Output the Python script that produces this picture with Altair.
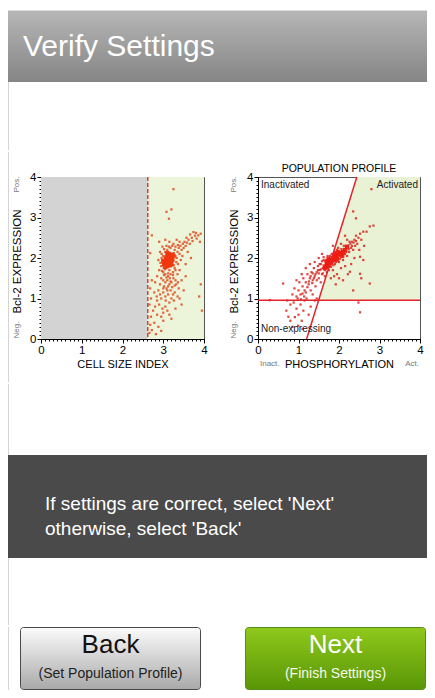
import altair as alt
import pandas as pd

FONT = "Liberation Sans, Arial, sans-serif"
PLOT_FONT = "Liberation Sans, Arial, sans-serif"

# ---------------- texts ----------------
HEADER_TITLE = "Verify Settings"
MESSAGE_LINES = ["If settings are correct, select 'Next'", "otherwise, select 'Back'"]
BACK_LABEL, BACK_SUB = "Back", "(Set Population Profile)"
NEXT_LABEL, NEXT_SUB = "Next", "(Finish Settings)"

LEFT_X_TITLE = "CELL SIZE INDEX"
RIGHT_X_TITLE = "PHOSPHORYLATION"
Y_TITLE = "Bcl-2 EXPRESSION"
RIGHT_TITLE = "POPULATION PROFILE"
REGION_LABELS = ["Inactivated", "Activated", "Non-expressing"]
AXIS_END_X = ["Inact.", "Act."]
AXIS_END_Y = ["Pos.", "Neg."]

# ---------------- axes ----------------
MAJOR_TICKS = [0, 1, 2, 3, 4]
MINOR_TICKS = [round(i / 10, 1) for i in range(0, 41)]

# ---------------- gates ----------------
CELL_SIZE_GATE = [2.62]
GRAY_REGION = {"x0": [0.0], "x1": [2.62], "y0": [0.0], "y1": [4.0]}
GREEN_REGION = {"x0": [2.62], "x1": [4.0], "y0": [0.0], "y1": [4.0]}
EXPR_GATE = [0.955]
PHOS_LINE_X = [1.20, 2.44]
PHOS_LINE_Y = [0.0, 4.0]
ACTIVE_AREA_X = [1.49, 2.44, 4.0]
ACTIVE_AREA_LOW = [0.955, 0.955, 0.955]
ACTIVE_AREA_HIGH = [0.955, 4.0, 4.0]

# ---------------- events ----------------
LEFT_CORE = [(3.12,1.95),(3.05,1.90),(3.18,2.00),(3.08,2.02),(3.15,1.88),(3.10,1.80),(3.20,2.08),
             (3.02,1.85),(3.14,2.10),(3.06,1.98),(3.22,1.95),(3.00,1.92),(3.16,1.82),(3.10,2.12),
             (3.25,2.05),(3.04,1.78),(3.18,1.92),(3.08,1.88),(3.12,2.05),(3.20,1.85)]
LEFT_HALO = [(3.00,2.05),(3.02,1.85),(3.05,2.15),(3.08,1.75),(3.10,2.20),(3.15,1.70),(3.18,2.25),
             (3.20,1.80),(3.22,2.10),(3.25,1.95),(3.28,2.20),(3.30,2.05),(3.32,1.90),(2.98,1.95),
             (2.95,1.80),(3.00,1.65),(3.05,1.60),(3.12,1.55),(3.18,1.60),(3.24,1.65),(3.28,1.75),
             (3.35,2.15),(3.38,2.25),(3.40,2.10),(3.42,2.30),(3.45,2.20),(3.48,2.35),(3.50,2.25),
             (3.52,2.40),(3.55,2.30),(3.58,2.38),(3.62,2.45),(3.65,2.35),(3.70,2.50),(3.74,2.64),
             (3.78,2.55),(3.82,2.48),(3.86,2.56),(3.90,2.40),(3.92,2.60),(3.60,2.15),(3.55,1.85),
             (3.68,2.00),(2.95,1.50),(3.00,1.45),(3.05,1.40),(3.10,1.45),(3.15,1.35),(3.20,1.40),
             (3.25,1.50),(3.30,1.45),(3.35,1.60),(3.02,1.30),(3.08,1.25),(3.12,1.30),(3.18,1.20),
             (3.22,1.28),(3.28,1.15),(3.32,1.35),(3.38,1.25),(2.92,1.35),(2.88,1.20),(3.00,1.15),
             (3.05,1.05),(3.12,1.10),(3.20,1.00),(3.26,0.95),(3.15,0.90),(2.95,1.00),(2.85,0.95),
             (2.90,0.85),(2.80,0.80),(3.05,0.80),(3.10,0.70),(2.75,0.70),(2.85,0.60),(2.70,0.55),
             (2.95,0.55),(3.00,0.45),(2.78,0.40),(2.68,0.35),(2.88,0.30),(2.72,0.22),(2.66,0.15),
             (2.82,0.12),(2.95,0.20),(3.20,0.50),(3.30,0.75),(3.45,0.85),(3.50,1.20),(3.45,1.45),
             (3.40,1.70),(3.55,1.55),(3.92,1.35),(3.95,0.70),(3.88,1.05),(2.70,1.00),(2.68,1.25),
             (2.72,1.45),(2.66,0.85),(3.20,3.20),(3.25,3.70),(3.08,3.14),(3.14,2.97),(2.72,2.56),
             (2.68,2.12),(2.90,2.40),(3.05,2.45),(3.15,2.40),(3.25,2.35),(2.98,2.28),(2.92,2.15),
             (2.88,1.95),(2.90,1.70),(2.85,1.55),(2.80,1.40),(3.35,1.05),(3.40,1.00),(3.00,0.65),
             (3.15,0.60),
             (2.96,2.10),(3.02,2.22),(3.08,2.30),(3.14,2.28),(3.22,2.30),(3.30,2.28),(3.36,2.32),
             (3.26,2.12),(3.33,2.00),(3.36,1.85),(3.30,1.70),(3.24,1.58),(3.16,1.50),(3.08,1.52),
             (3.02,1.58),(2.97,1.68),(2.93,1.88),(2.96,2.00),(3.04,1.72),(3.26,1.82),(3.43,1.95),
             (3.47,2.05),(3.40,2.40),(3.33,2.45),(3.57,2.50),(3.66,2.58),(3.72,2.42),(3.80,2.62),
             (3.12,1.62),(3.18,1.42),(3.28,1.32),(3.10,1.20),(3.00,1.25),(3.36,1.40),(3.24,1.10),
             (2.92,1.10),(2.84,1.05),(3.06,0.95),(2.78,1.15),(2.98,0.75)]
RIGHT_CORE = [(1.70,1.85),(1.75,1.90),(1.72,1.80),(1.78,1.95),(1.80,1.88),(1.68,1.78),(1.74,1.98),
              (1.82,1.92),(1.76,1.84),(1.70,1.92),(1.85,2.00),(1.88,1.95),(1.92,2.05),(1.95,1.98),
              (2.00,2.08),(2.05,2.12),(2.10,2.15),(2.15,2.20),(2.20,2.28),(1.65,1.75),(1.90,2.10),
              (1.98,2.15),(2.08,2.05)]
RIGHT_HALO = [(0.70,0.70),(0.75,0.55),(0.80,0.45),(0.85,0.30),(0.91,0.54),(0.95,0.75),(0.99,0.33),
              (1.00,0.60),(1.05,0.85),(1.08,0.45),(1.10,0.25),(1.12,0.70),(0.88,0.90),(0.80,0.85),
              (0.72,0.95),(0.62,1.37),(0.29,0.96),(0.85,1.10),(0.90,1.25),(0.95,1.05),(1.00,1.20),
              (1.02,1.40),(1.05,1.10),(1.10,1.30),(1.12,1.50),(1.15,1.20),(1.18,1.40),(1.20,1.00),
              (1.22,1.60),(1.25,1.35),(1.28,1.50),(1.30,1.20),(1.32,1.65),(1.35,1.45),(1.38,1.75),
              (1.40,1.55),(1.42,1.30),(1.45,1.65),(1.48,1.80),(1.50,1.50),(1.52,1.70),(1.55,1.40),
              (1.55,1.85),(1.58,1.60),(1.60,1.75),(1.62,1.95),(1.65,1.55),(1.65,1.70),(1.68,1.85),
              (1.40,0.95),(1.30,0.80),(1.25,0.60),(1.15,0.95),(0.98,1.00),(1.35,1.10),(1.45,1.00),
              (0.95,1.45),(1.08,1.60),(1.18,1.75),(1.28,1.85),(1.50,2.00),(1.58,2.10),(1.40,1.90),
              (1.85,1.70),(1.90,1.85),(1.95,2.00),(2.00,1.90),(2.05,2.05),(2.08,2.15),(2.10,1.95),
              (2.12,2.20),(2.15,2.10),(2.18,2.25),(2.20,2.05),(2.22,2.30),(2.25,2.15),(2.28,2.35),
              (2.30,2.25),(2.32,2.40),(2.35,2.20),(2.38,2.45),(2.40,2.30),(2.42,2.55),(2.45,2.35),
              (2.48,2.50),(2.52,2.60),(2.55,2.45),(2.60,2.65),(2.68,2.65),(2.76,2.78),(2.85,2.80),
              (2.42,2.98),(2.35,3.15),(2.80,3.70),(2.52,2.03),(2.60,1.95),(2.52,1.61),(2.27,1.66),
              (2.10,1.45),(2.22,1.60),(2.55,1.50),(2.76,1.37),(2.48,0.90),(2.52,0.66),(2.00,1.50),
              (1.95,1.60),(2.05,1.75),(1.88,1.55),(2.15,1.80),(2.30,1.85),(2.38,2.00),(1.80,1.50),
              (1.92,1.35),(2.35,1.20),(2.20,2.45),(2.05,2.35),(1.98,2.25),(1.90,2.15),(2.50,2.20),
              (2.62,2.30),(2.15,2.55),(1.85,2.30),
              (1.45,1.45),(1.50,1.62),(1.55,1.72),(1.60,1.62),(1.62,1.82),(1.66,1.92),(1.58,1.92),
              (1.52,1.85),(1.48,1.70),(1.42,1.60),(1.38,1.50),(1.34,1.38),(1.30,1.55),(1.26,1.42),
              (1.22,1.28),(1.18,1.15),(1.14,1.05),(1.10,1.12),(1.06,0.98),(1.35,1.62),(1.78,2.05),
              (1.82,2.10),(1.86,1.82),(1.92,1.90),(1.96,1.92),(2.02,1.98),(2.06,2.22),(2.12,2.30),
              (2.18,2.15),(2.24,2.22),(2.26,2.40),(2.32,2.30),(2.36,2.38),(2.42,2.42),(1.70,1.65),
              (1.75,1.70),(1.80,1.78),(1.95,2.20),(1.72,2.05),(1.62,2.02)]

ONE = pd.DataFrame({"k": [0]})
W = 419


def pts(lst):
    return pd.DataFrame(lst, columns=["x", "y"])


def grad(top, bottom):
    return alt.LinearGradient(gradient="linear", x1=0, x2=0, y1=0, y2=1,
                              stops=[alt.GradientStop(color=top, offset=0),
                                     alt.GradientStop(color=bottom, offset=1)])


def box(x, x2, y, y2, **mk):
    return alt.Chart(ONE).mark_rect(**mk).encode(
        x=alt.value(x), x2=alt.value(x2), y=alt.value(y), y2=alt.value(y2))


def label(text, x, y, **mk):
    return alt.Chart(ONE).mark_text(text=text, **mk).encode(x=alt.value(x), y=alt.value(y))


def vline(x, y, y2):
    return alt.Chart(ONE).mark_rule(color="#d4d4d4", strokeWidth=1).encode(
        x=alt.value(x), y=alt.value(y), y2=alt.value(y2))


# ---------------- Row A: header ----------------
row_a = alt.layer(
    box(0, W, 2, 3, color="#dcdcdc"),
    box(0, W, 3, 74, fill=grad("#b6b6b6", "#858585")),
    label(HEADER_TITLE, 15, 48, align="left", baseline="alphabetic", font=FONT,
          fontSize=30, color="white"),
    vline(0.5, 74, 142),
).properties(width=W, height=142)

# ---------------- Row B: plots ----------------
SC = alt.Scale(domain=[0, 4], nice=False, zero=False)


def major_axis(title, is_x, title_size):
    kw = dict(
        title=title, values=MAJOR_TICKS, format="d", tickSize=4,
        labelOverlap=False, labelFlush=False, grid=False,
        labelFont=PLOT_FONT, labelFontSize=11.5, labelColor="#000", labelPadding=1,
        tickColor="#000", domainColor="#000",
        titleFont=PLOT_FONT, titleFontSize=title_size, titleFontWeight="normal", titleColor="#000",
    )
    if is_x:
        kw.update(orient="bottom", titleY=28.5, titleBaseline="alphabetic")
    else:
        kw.update(orient="left", titleX=-24, titleY=84, titleBaseline="middle")
    return alt.Axis(**kw)


def minor_axis(is_x):
    return alt.Axis(orient="bottom" if is_x else "left", values=MINOR_TICKS, title="",
                    labels=False, domain=False, grid=False, tickSize=2, tickColor="#000")


def xy(ax_x=None, ax_y=None, xf="x", yf="y"):
    return dict(x=alt.X(xf, type="quantitative", scale=SC, axis=ax_x),
                y=alt.Y(yf, type="quantitative", scale=SC, axis=ax_y))


def side_labels():
    return [
        label(AXIS_END_Y[0], -24, 7.5, angle=270, align="center", baseline="middle",
              font=PLOT_FONT, fontSize=8, color="#777"),
        label(AXIS_END_Y[1], -24, 153, angle=270, align="center", baseline="middle",
              font=PLOT_FONT, fontSize=8, color="#777"),
    ]


left = alt.layer(
    alt.Chart(pd.DataFrame(GRAY_REGION)).mark_rect(color="#d3d3d3").encode(
        **xy(minor_axis(True), minor_axis(False), "x0", "y0"), x2="x1", y2="y1"),
    alt.Chart(pd.DataFrame(GREEN_REGION)).mark_rect(color="#ecf4da").encode(
        **xy(None, None, "x0", "y0"), x2="x1", y2="y1"),
    alt.Chart(pts(LEFT_HALO)).mark_square(size=5, color="#e04a1e", opacity=0.85).encode(
        **xy(major_axis(LEFT_X_TITLE, True, 11), major_axis(Y_TITLE, False, 11.5))),
    alt.Chart(pts(LEFT_CORE)).mark_square(size=18, color="#f0360e", opacity=0.95).encode(**xy()),
    alt.Chart(pd.DataFrame({"g": CELL_SIZE_GATE})).mark_rule(
        color="#d2403a", strokeDash=[4, 2], strokeWidth=1.5).encode(
        x=alt.X("g", type="quantitative", scale=SC, axis=None)),
    *side_labels(),
).resolve_axis(x="independent", y="independent").properties(
    width=163, height=162, view=alt.ViewBackground(stroke="#555", strokeWidth=1))

right = alt.layer(
    alt.Chart(pd.DataFrame({"x": ACTIVE_AREA_X, "y": ACTIVE_AREA_LOW, "y2": ACTIVE_AREA_HIGH}))
    .mark_area(color="#e9f2d5", opacity=1).encode(
        **xy(minor_axis(True), minor_axis(False)), y2="y2"),
    alt.Chart(pts(RIGHT_HALO)).mark_square(size=5, color="#d8261e", opacity=0.85).encode(
        **xy(major_axis(RIGHT_X_TITLE, True, 11), major_axis(Y_TITLE, False, 11.5))),
    alt.Chart(pts(RIGHT_CORE)).mark_square(size=18, color="#f01a10", opacity=0.95).encode(**xy()),
    alt.Chart(pd.DataFrame({"g": EXPR_GATE})).mark_rule(color="#e5232a", strokeWidth=1.5).encode(
        y=alt.Y("g", type="quantitative", scale=SC, axis=None)),
    alt.Chart(pd.DataFrame({"x": PHOS_LINE_X, "y": PHOS_LINE_Y})).mark_line(
        color="#e5232a", strokeWidth=1.5).encode(**xy()),
    label(RIGHT_TITLE, 81, -5, align="center", baseline="alphabetic", font=PLOT_FONT, fontSize=10.5, color="#000"),
    label(REGION_LABELS[0], 3, 11, align="left", baseline="alphabetic", font=PLOT_FONT, fontSize=10, color="#222"),
    label(REGION_LABELS[1], 160, 11, align="right", baseline="alphabetic", font=PLOT_FONT, fontSize=10, color="#222"),
    label(REGION_LABELS[2], 3, 155, align="left", baseline="alphabetic", font=PLOT_FONT, fontSize=10, color="#222"),
    label(AXIS_END_X[0], 2, 189, align="left", baseline="alphabetic", font=PLOT_FONT, fontSize=8, color="#777"),
    label(AXIS_END_X[1], 161, 189, align="right", baseline="alphabetic", font=PLOT_FONT, fontSize=8, color="#777"),
    *side_labels(),
).resolve_axis(x="independent", y="independent").properties(
    width=162, height=162, view=alt.ViewBackground(stroke="#555", strokeWidth=1))


def spacer(w, h, border):
    layers = [label("", 0, 0)]
    if border:
        # border line also fixes the row's vertical extent (-25 .. h+43)
        layers.append(vline(0.5, -25, h + 43))
    return alt.layer(*layers).properties(width=w, height=h)


row_b = alt.hconcat(spacer(33, 162, True), left, spacer(54, 162, False), right,
                    spacing=0, bounds="flush")

# ---------------- Row C: message ----------------
row_c = alt.layer(
    vline(0.5, 0, 71),
    box(0, W, 71, 174, color="#4a4a4a"),
    label(MESSAGE_LINES[0], 37, 126, align="left", baseline="alphabetic", font=FONT, fontSize=19, color="white"),
    label(MESSAGE_LINES[1], 37, 151, align="left", baseline="alphabetic", font=FONT, fontSize=19, color="white"),
    vline(0.5, 174, 241),
).properties(width=W, height=241)

# ---------------- Row D: buttons ----------------
row_d = alt.layer(
    vline(0.5, 0, 63),
    box(12.5, 192.5, 0.5, 62.5, fill=grad("#fbfbfb", "#a9a9a9"), stroke="#4a4a4a",
        strokeWidth=1, cornerRadius=3),
    label(BACK_LABEL, 102.5, 26, align="center", baseline="alphabetic", font=FONT, fontSize=26, color="#111"),
    label(BACK_SUB, 102.5, 51, align="center", baseline="alphabetic", font=FONT, fontSize=14, color="#222"),
    box(237.5, 417.5, 0.5, 62.5, fill=grad("#8fc91c", "#599606"), stroke="#5a8a1a",
        strokeWidth=1, cornerRadius=3),
    label(NEXT_LABEL, 327.5, 26, align="center", baseline="alphabetic", font=FONT, fontSize=26, color="white"),
    label(NEXT_SUB, 327.5, 51, align="center", baseline="alphabetic", font=FONT, fontSize=14, color="#f4f9ec"),
).properties(width=W, height=63)

chart = alt.vconcat(row_a, row_b, row_c, row_d, spacing=0, bounds="full").properties(
    padding=0, background="white"
).configure_view(stroke=None)

chart.save("out.html", embed_options={"renderer": "svg", "actions": False})
